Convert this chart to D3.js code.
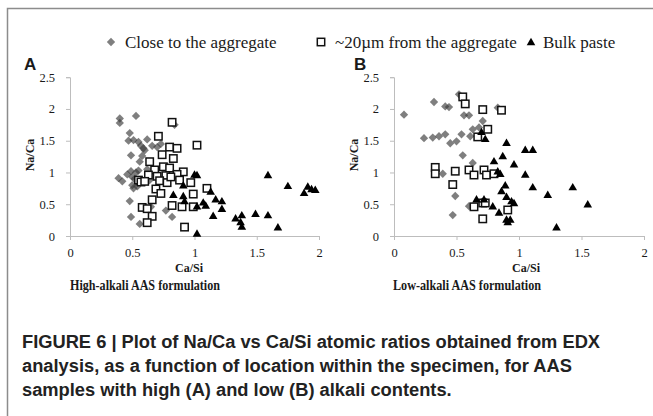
<!DOCTYPE html>
<html>
<head>
<meta charset="utf-8">
<script src="https://cdn.jsdelivr.net/npm/d3@7"></script>
<style>
	body { margin: 0; background: #fff; }
	svg text { fill: #1a1a1a; }
</style>
</head>
<body>
<div id="svgSpot"></div>
<script>
// tick labels
var xTicks = [0, 0.5, 1, 1.5, 2];
var yTicks = [0, 0.5, 1, 1.5, 2, 2.5];

// panel A - high alkali, [Ca/Si, Na/Ca]
var highClose = [[0.40,1.85],[0.40,1.78],[0.53,1.89],[0.48,1.62],[0.47,1.50],[0.51,1.51],[0.55,1.48],[0.57,1.42],
	[0.59,1.38],[0.62,1.52],[0.60,1.35],[0.70,1.40],[0.73,1.45],[0.66,1.42],[0.49,1.27],[0.58,1.26],[0.56,1.17],
	[0.49,1.02],[0.53,1.00],[0.55,1.03],[0.62,1.05],[0.39,0.91],[0.42,0.86],[0.50,0.93],[0.52,0.90],[0.54,0.86],
	[0.50,0.80],[0.51,0.75],[0.54,0.78],[0.48,0.55],[0.49,0.30],[0.56,0.19],[0.65,0.46],[0.77,0.40],[0.82,0.30],
	[0.84,1.75],[0.64,0.88],[0.70,0.95],[0.46,0.97]];
var highNear = [[0.82,1.79],[0.71,1.57],[1.02,1.43],[0.80,1.40],[0.86,1.38],[0.74,1.28],[0.83,1.22],[0.64,1.17],
	[0.75,1.09],[0.80,1.07],[0.91,1.01],[0.68,1.04],[0.86,0.97],[0.63,0.96],[0.70,0.94],[0.77,0.95],[0.55,0.88],
	[0.57,0.85],[0.60,0.86],[0.72,0.87],[0.78,0.84],[0.88,0.88],[0.97,0.84],[0.69,0.74],[1.10,0.75],[0.99,0.66],
	[0.73,0.67],[0.66,0.57],[0.58,0.45],[0.62,0.43],[0.66,0.31],[0.62,0.21],[0.82,0.48],[0.90,0.46],[0.99,0.46],
	[0.92,0.14],[0.81,0.93]];
var highBulk = [[0.83,0.65],[0.91,0.80],[0.91,0.63],[0.92,0.55],[1.00,0.97],[1.02,0.96],[1.02,0.47],[1.07,0.53],
	[1.09,0.48],[1.13,0.70],[1.17,0.58],[1.22,0.55],[1.22,0.43],[1.15,0.32],[1.33,0.28],[1.38,0.33],[1.37,0.22],
	[1.38,0.15],[1.49,0.35],[1.59,0.33],[1.59,0.96],[1.67,0.14],[1.75,0.79],[1.88,0.68],[1.91,0.78],[1.94,0.74],
	[1.97,0.73],[1.02,0.04]];

// panel B - low alkali
var lowClose = [[0.08,1.91],[0.32,2.11],[0.41,2.04],[0.44,2.03],[0.52,2.23],[0.56,1.90],[0.60,1.90],[0.83,2.02],
	[0.24,1.54],[0.31,1.55],[0.36,1.57],[0.41,1.60],[0.45,1.46],[0.50,1.49],[0.54,1.60],[0.63,1.68],[0.68,1.71],
	[0.71,1.81],[0.61,1.57],[0.55,1.27],[0.63,1.15],[0.39,0.98],[0.49,0.63],[0.60,0.47],[0.47,0.33]];
var lowNear = [[0.55,2.19],[0.57,2.08],[0.71,1.99],[0.86,1.98],[0.75,1.68],[0.67,1.56],[0.33,1.08],[0.33,0.98],
	[0.49,1.02],[0.60,1.04],[0.64,0.96],[0.72,1.04],[0.74,0.96],[0.80,0.98],[0.47,0.81],[0.64,0.46],[0.71,0.52],
	[0.73,0.52],[0.71,0.27],[0.91,0.41]];
var lowBulk = [[0.70,1.64],[0.73,1.53],[0.90,1.47],[1.05,1.36],[1.11,1.36],[0.87,1.26],[0.80,1.18],[0.96,1.13],
	[0.85,0.98],[0.83,1.02],[1.05,0.97],[0.89,0.80],[0.86,0.71],[0.90,0.62],[1.11,0.77],[1.43,0.77],[1.23,0.65],
	[0.94,0.55],[0.96,0.52],[0.66,0.58],[0.72,0.58],[0.79,0.47],[0.84,0.37],[0.90,0.26],[0.93,0.26],[0.91,0.22],
	[1.55,0.50],[1.30,0.14]];

var serif = "'Liberation Serif', 'Times New Roman', serif";
var sans = "'Liberation Sans', Arial, sans-serif";

var svg = d3.select('#svgSpot').append('svg')
	.attr("width", 653)
	.attr("height", 416);

// frame lines
svg.append("path")
	.attr("d", "M7.5,416V8.5H653")
	.style("fill", "none")
	.style("stroke", "#8c8c8c")
	.style("stroke-width", 1.5);

var diamond = d3.symbol().type(d3.symbolDiamond2).size(44);
var triangle = d3.symbol().type(d3.symbolTriangle).size(32);

function drawMarks(g, kind) {
	if (kind == "close") {
		g.append("path").attr("d", diamond)
			.style("fill", "#3a3a3a").style("fill-opacity", 0.65);
	} else if (kind == "near") {
		g.append("rect").attr("x", -3.7).attr("y", -3.7).attr("width", 7.4).attr("height", 7.4)
			.style("fill", "white").style("stroke", "#111").style("stroke-width", 1.5);
	} else {
		g.append("path").attr("d", triangle).attr("transform", "translate(0,0.8)")
			.style("fill", "#000");
	}
}

function makePanel(opts) {
	var x = d3.scaleLinear().domain([0, 2]).range([opts.left, opts.right]);
	var y = d3.scaleLinear().domain([0, 2.5]).range([236, 77.2]);
	var g = svg.append("g");

	var xAxis = g.append("g").attr("transform", "translate(0,236)")
		.call(d3.axisBottom(x).tickValues(xTicks).tickSize(4).tickPadding(8).tickFormat(d3.format("~g")));
	var yAxis = g.append("g").attr("transform", "translate(" + opts.left + ",0)")
		.call(d3.axisLeft(y).tickValues(yTicks).tickSize(4).tickPadding(11).tickFormat(d3.format("~g")));
	[xAxis, yAxis].forEach(function(ax) {
		ax.select(".domain").style("stroke", "#bdbdbd");
		ax.selectAll(".tick line").style("stroke", "#bdbdbd");
		ax.selectAll("text").style("font-family", serif).style("font-size", "12.5px").style("fill", "#1a1a1a");
	});

	var series = [["close", opts.close], ["near", opts.near], ["bulk", opts.bulk]];
	series.forEach(function(s) {
		g.append("g").selectAll("g").data(s[1]).enter().append("g")
			.attr("transform", function(d) { return "translate(" + x(d[0]) + "," + y(d[1]) + ")"; })
			.each(function() { drawMarks(d3.select(this), s[0]); });
	});

	g.append("text").text("Na/Ca")
		.attr("transform", "translate(" + (opts.left - 36) + ",155) rotate(-90)")
		.attr("text-anchor", "middle")
		.style("font-family", serif).style("font-weight", "bold").style("font-size", "12px");
	g.append("text").text("Ca/Si")
		.attr("x", opts.titleX).attr("y", 272)
		.attr("text-anchor", "middle")
		.style("font-family", serif).style("font-weight", "bold").style("font-size", "12px");
	// the subtitles are squeezed sideways in the source figure
	g.append("text").text(opts.subtitle)
		.attr("x", opts.subX - opts.subW / 2).attr("y", 290)
		.attr("textLength", opts.subW).attr("lengthAdjust", "spacingAndGlyphs")
		.style("font-family", serif).style("font-weight", "bold").style("font-size", "15px");
	g.append("text").text(opts.label)
		.attr("x", opts.labelX).attr("y", 70)
		.style("font-family", sans).style("font-weight", "bold").style("font-size", "17px");
}

makePanel({ left: 70, right: 319, close: highClose, near: highNear, bulk: highBulk,
	subtitle: "High-alkali AAS formulation", label: "A",
	labelX: 24, titleX: 189, subX: 145, subW: 150 });
makePanel({ left: 394, right: 644, close: lowClose, near: lowNear, bulk: lowBulk,
	subtitle: "Low-alkali AAS formulation", label: "B",
	labelX: 354, titleX: 526, subX: 467, subW: 148 });

// legend
var legendItems = [
	{ kind: "close", x: 111, tx: 14, text: "Close to the aggregate" },
	{ kind: "near", x: 321, tx: 14, text: "~20\u00b5m from the aggregate" },
	{ kind: "bulk", x: 531, tx: 12, text: "Bulk paste" }
];
legendItems.forEach(function(item) {
	var lg = svg.append("g").attr("transform", "translate(" + item.x + ",42)");
	drawMarks(lg, item.kind);
	lg.append("text").text(item.text)
		.attr("x", item.tx).attr("y", 5.5)
		.style("font-family", serif).style("font-size", "17px");
});

// caption
var caption = [
	"FIGURE 6 | Plot of Na/Ca vs Ca/Si atomic ratios obtained from EDX",
	"analysis, as a function of location within the specimen, for AAS",
	"samples with high (A) and low (B) alkali contents."
];
svg.append("g").selectAll("text").data(caption).enter().append("text")
	.attr("x", 22)
	.attr("y", function(d, i) { return 348 + i * 24; })
	.text(function(d) { return d; })
	.style("font-family", sans).style("font-weight", "bold").style("font-size", "18.3px")
	.style("fill", "#222");
</script>
</body>
</html>
